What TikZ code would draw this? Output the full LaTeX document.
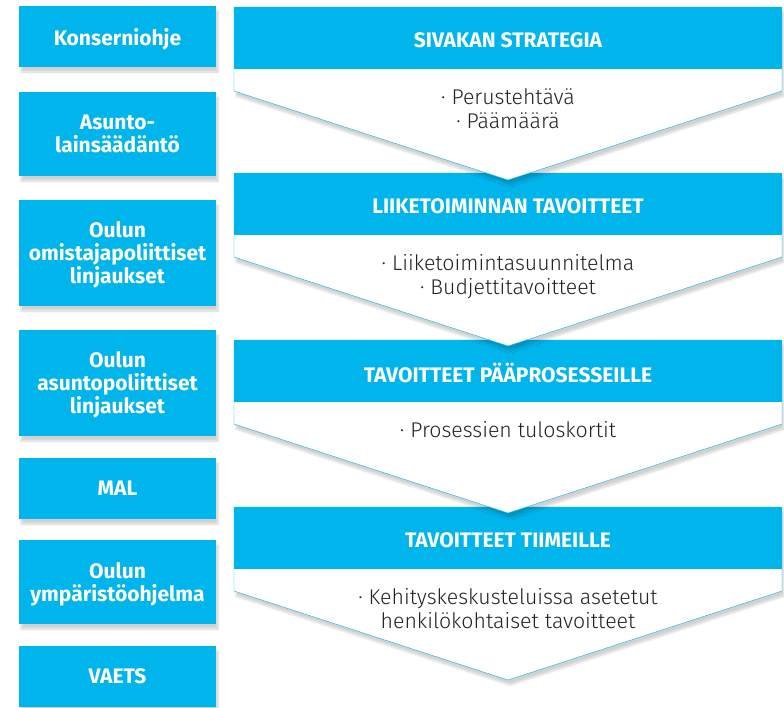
\documentclass[tikz,border=0pt]{standalone}
\usepackage{fontspec}
\setmainfont{Fira Sans}
\newfontfamily\lightfont{Fira Sans Light}
\usepackage{tikz}
\usetikzlibrary{shadows.blur}
\definecolor{sivakblue}{RGB}{0,181,236}
\definecolor{bodygray}{RGB}{35,35,35}
\tikzset{
  softshadow/.style={blur shadow={shadow xshift=2pt, shadow yshift=-5pt, shadow blur steps=10, shadow opacity=18}},
  sidebox/.style={fill=sivakblue, text=white, font=\bfseries\fontsize{21}{23}\selectfont,
    minimum width=197pt, align=center, inner sep=0pt, text depth=0pt, softshadow},
  headtext/.style={text=white, font=\bfseries\fontsize{21}{23}\selectfont},
  bodytext/.style={text=bodygray, font=\lightfont\fontsize{21.3}{24}\selectfont, align=center, anchor=north, inner sep=0pt},
}

\begin{document}
\begin{tikzpicture}[x=1pt,y=-1pt]
\useasboundingbox (0,0) rectangle (784,707);
%% left column
\node[sidebox, minimum height=61pt]  (konserni) at (117.5,36.5) {Konserniohje};
\node[sidebox, minimum height=84pt]  (laki)     at (117.5,134)  {Asunto-\\lainsäädäntö};
\node[sidebox, minimum height=106pt] (omistaja) at (117.5,253)  {Oulun\\omistajapoliittiset\\linjaukset};
\node[sidebox, minimum height=106pt] (asunto)   at (117.5,383)  {Oulun\\asuntopoliittiset\\linjaukset};
\node[sidebox, minimum height=61pt]  (mal)      at (117.5,488.5) {MAL};
\node[sidebox, minimum height=84pt]  (ymparisto) at (117.5,582) {Oulun\\ympäristöohjelma};
\node[sidebox, minimum height=61pt]  (vaets)    at (117.5,676.5) {VAETS};
%% chevrons, drawn bottom up
\foreach \t/\nm/\title/\body in {
  507/tiimi/{TAVOITTEET TIIMEILLE}/{· Kehityskeskusteluissa asetetut\\henkilökohtaiset tavoitteet},
  340/prosessi/{TAVOITTEET PÄÄPROSESSEILLE}/{· Prosessien tuloskortit},
  173/liiketoiminta/{LIIKETOIMINNAN TAVOITTEET}/{· Liiketoimintasuunnitelma\\· Budjettitavoitteet},
  7/strategia/{SIVAKAN STRATEGIA}/{· Perustehtävä\\· Päämäärä}}
{
  \draw[sivakblue, fill=white, softshadow] (234,\t) -- (782,\t) -- (782,\t+84)
    -- (508,\t+173) -- (234,\t+84) -- cycle;
  \fill[sivakblue] (234,\t) rectangle (782,\t+62);
  \node[headtext] (\nm-title) at (508,\t+33) {\title};
  \node[bodytext] (\nm-body) at (508,\t+81) {\body};
}
\end{tikzpicture}
\end{document}
